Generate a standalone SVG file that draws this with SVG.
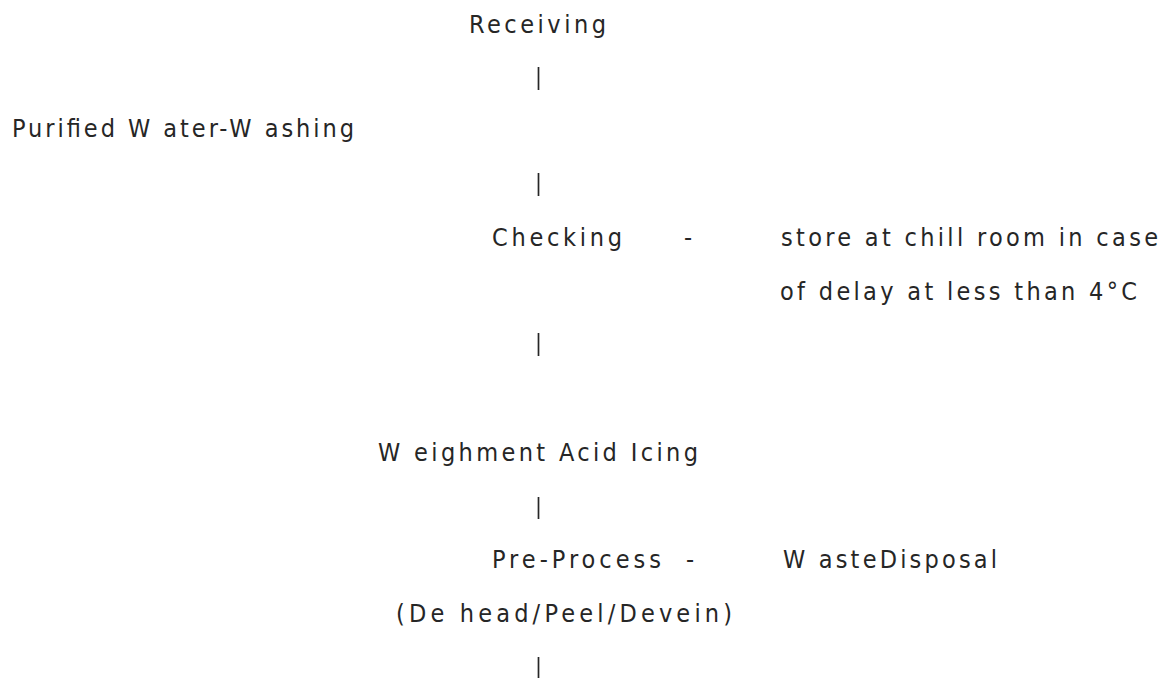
<svg xmlns="http://www.w3.org/2000/svg" width="1173" height="679" viewBox="0 0 1173 679">
<style>
  .t { font-family: "DejaVu Sans Condensed", "DejaVu Sans", "Liberation Sans", sans-serif; font-stretch: condensed; font-size: 25px; fill: #262626; }
  .bar { stroke: #262626; stroke-width: 1.7; }
</style>
<rect width="1173" height="679" fill="#ffffff"/>
<g id="connectors">
  <line class="bar" x1="538.5" y1="67" x2="538.5" y2="90"/>
  <line class="bar" x1="538.5" y1="173" x2="538.5" y2="196"/>
  <line class="bar" x1="538.5" y1="333" x2="538.5" y2="356"/>
  <line class="bar" x1="538.5" y1="497" x2="538.5" y2="519"/>
  <line class="bar" x1="538.5" y1="657" x2="538.5" y2="678"/>
  <text class="t" x="684" y="246">-</text>
  <text class="t" x="686" y="568">-</text>
</g>
<g id="receiving">
  <text class="t" x="469" y="33" textLength="137" lengthAdjust="spacing">Receiving</text>
</g>
<g id="washing">
  <text class="t" x="12" y="137" textLength="342" lengthAdjust="spacing">Purified W ater-W ashing</text>
</g>
<g id="checking">
  <text class="t" x="492" y="246" textLength="130" lengthAdjust="spacing">Checking</text>
</g>
<g id="chill-room">
  <text class="t" x="781" y="246" textLength="377" lengthAdjust="spacing">store at chill room in case</text>
  <text class="t" x="780" y="300" textLength="357" lengthAdjust="spacing">of delay at less than 4°C</text>
</g>
<g id="weighment">
  <text class="t" x="378" y="461" textLength="320" lengthAdjust="spacing">W eighment Acid Icing</text>
</g>
<g id="pre-process">
  <text class="t" x="492" y="568" textLength="169" lengthAdjust="spacing">Pre-Process</text>
  <text class="t" x="396" y="622" textLength="336" lengthAdjust="spacing">(De head/Peel/Devein)</text>
</g>
<g id="waste-disposal">
  <text class="t" x="783" y="568" textLength="214" lengthAdjust="spacing">W asteDisposal</text>
</g>
</svg>
